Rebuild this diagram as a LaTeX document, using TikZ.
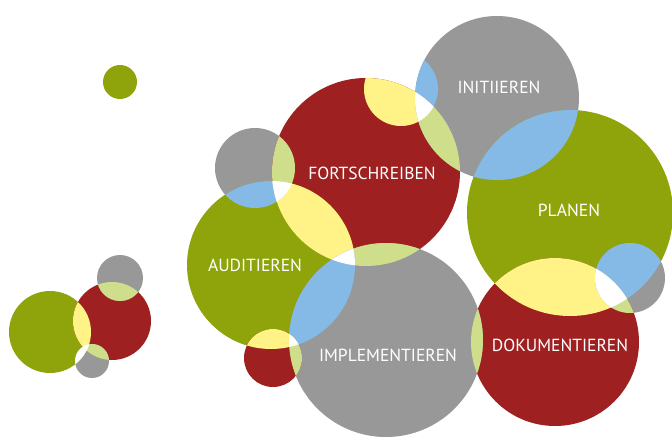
\documentclass[tikz,border=0pt]{standalone}
\usepackage{fontspec}
\setmainfont{PT Sans}
\definecolor{cgray}{RGB}{152,152,152}
\definecolor{cred}{RGB}{158,32,32}
\definecolor{cgreen}{RGB}{142,164,10}
\definecolor{cyellow}{RGB}{255,242,135}
\definecolor{clgreen}{RGB}{206,222,138}
\definecolor{cblue}{RGB}{133,185,230}
\newcommand\ovl[3]{\begin{scope}\clip #1; \fill[#3] #2;\end{scope}}
\newcommand\tri[3]{\begin{scope}\clip #1; \clip #2; \fill[white] #3;\end{scope}}
\def\Gz{(120,82) circle[radius=17pt]}
\def\BLg{(50,332) circle[radius=41pt]}
\def\BLr{(112,321) circle[radius=39pt]}
\def\BLt{(120,278) circle[radius=23pt]}
\def\BLb{(92,361) circle[radius=17pt]}
\def\Gs{(255,168) circle[radius=40pt]}
\def\Fort{(366,172) circle[radius=94pt]}
\def\Aud{(271,265) circle[radius=84pt]}
\def\Init{(497,98) circle[radius=82pt]}
\def\Plan{(570,213) circle[radius=103pt]}
\def\Gr{(630,278) circle[radius=35pt]}
\def\Dok{(555,342) circle[radius=84pt]}
\def\Impl{(386,340) circle[radius=97pt]}
\def\Rs{(273,358) circle[radius=29pt]}
\def\Ghost{(401,89) circle[radius=37pt]}
\tikzset{lbl/.style={text=white,font=\fontsize{17.5}{17.5}\selectfont,inner sep=0pt}}
\begin{document}
\begin{tikzpicture}[x=1pt,y=-1pt]
\fill[white] (0,0) rectangle (672,443);
\useasboundingbox (0,0) rectangle (672,443);
% base circles
\fill[cgreen] \Gz;
\fill[cgreen] \BLg;
\fill[cred] \BLr;
\fill[cgray] \BLt;
\fill[cgray] \BLb;
\fill[cgray] \Gs;
\fill[cred] \Fort;
\fill[cgreen] \Aud;
\fill[cgray] \Init;
\fill[cgreen] \Plan;
\fill[cgray] \Gr;
\fill[cred] \Dok;
\fill[cgray] \Impl;
\fill[cred] \Rs;
% pairwise overlaps
\ovl{\Gs}{\Fort}{clgreen}
\ovl{\Gs}{\Aud}{cblue}
\ovl{\Fort}{\Aud}{cyellow}
\ovl{\Fort}{\Impl}{clgreen}
\ovl{\Aud}{\Impl}{cblue}
\ovl{\Rs}{\Aud}{cyellow}
\ovl{\Rs}{\Impl}{clgreen}
\ovl{\Ghost}{\Fort}{cyellow}
\ovl{\Ghost}{\Init}{cblue}
\ovl{\Init}{\Fort}{clgreen}
\ovl{\Init}{\Plan}{cblue}
\ovl{\Plan}{\Dok}{cyellow}
\ovl{\Gr}{\Plan}{cblue}
\ovl{\Gr}{\Dok}{clgreen}
\ovl{\Impl}{\Dok}{clgreen}
\ovl{\BLg}{\BLr}{cyellow}
\ovl{\BLr}{\BLt}{clgreen}
\ovl{\BLr}{\BLb}{clgreen}
\ovl{\BLg}{\BLb}{white}
% triple overlaps
\tri{\Gs}{\Fort}{\Aud}
\tri{\Fort}{\Aud}{\Impl}
\tri{\Rs}{\Aud}{\Impl}
\tri{\Ghost}{\Fort}{\Init}
\tri{\Plan}{\Dok}{\Gr}
\tri{\BLg}{\BLr}{\BLb}
% labels
\node[lbl] (tinit) at (499,87) {INITIIEREN};
\node[lbl] (tfort) at (372,173) {FORTSCHREIBEN};
\node[lbl] (tplan) at (569,210) {PLANEN};
\node[lbl] (taud) at (255,265) {AUDITIEREN};
\node[lbl] (timpl) at (388,355) {IMPLEMENTIEREN};
\node[lbl] (tdok) at (560,345) {DOKUMENTIEREN};
\end{tikzpicture}
\end{document}
